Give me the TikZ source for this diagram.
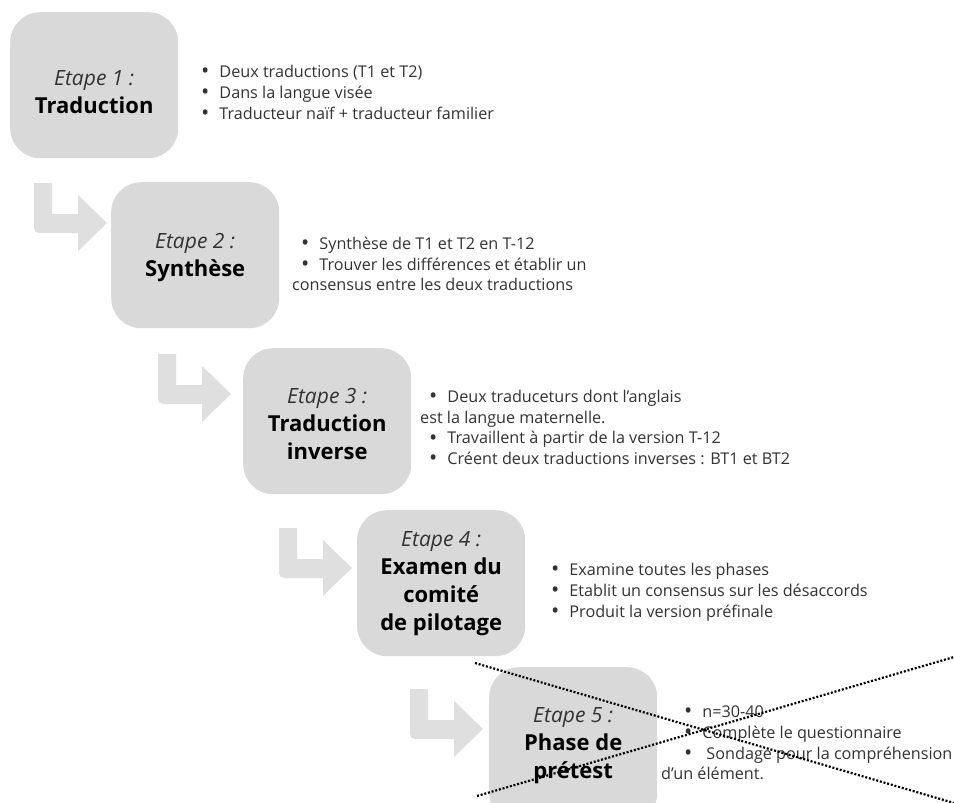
\documentclass[tikz,border=0pt]{standalone}
\usepackage{fontspec}
\setmainfont{Open Sans}
\definecolor{boxgray}{HTML}{D9D9D9}
\definecolor{arrowgray}{HTML}{DFDFDF}
\definecolor{txt}{HTML}{333333}
\newcommand{\bl}{\raisebox{-1.2pt}{\fontsize{22}{0}\selectfont\textbullet}\hspace{10pt}}
\newcommand{\et}[1]{{\fontsize{21}{28}\selectfont\mdseries\itshape\color{txt}#1}}
\begin{document}
\begin{tikzpicture}[x=1pt,y=-1pt,
  stepbox/.style={fill=boxgray, rounded corners=30pt, minimum width=168pt,
    minimum height=146pt, anchor=north west, inner sep=0pt, align=center,
    text=black, font=\fontsize{22}{28}\selectfont\bfseries},
  bullets/.style={anchor=west, align=left, inner sep=0pt, text=txt,
    font=\fontsize{16.2}{20.8}\selectfont},
  crossline/.style={line width=2.2pt, dash pattern=on 2pt off 1.8pt, black},
  pics/bendarrow/.style={code={
    \fill[arrowgray] (0,0) -- (18,0) -- (18,31) -- (44,31) -- (44,12) -- (73,40)
      -- (44,68) -- (44,50) -- (5,50) arc[start angle=90,end angle=180,radius=5] -- cycle;
  }}
]
\clip (0,0) rectangle (954,803);
\fill[white] (0,0) rectangle (954,803);

% arrows
\pic at (34,183) {bendarrow};
\pic at (158,354) {bendarrow};
\pic at (279,528) {bendarrow};
\pic at (410,689) {bendarrow};

% boxes
\node[stepbox] (b1) at (10,12) {\rule{0pt}{28pt}\et{Etape 1 :}\\Traduction};
\node[stepbox] (b2) at (111,182) {\rule{0pt}{20pt}\et{Etape 2 :}\\Synthèse};
\node[stepbox] (b3) at (243,348) {\rule{0pt}{20pt}\et{Etape 3 :}\\Traduction\\inverse};
\node[stepbox] (b4) at (357,510) {\et{Etape 4 :}\\Examen du\\comité\\de pilotage};
\node[stepbox, minimum height=156pt] (b5) at (489,667) {\et{Etape 5 :}\\Phase de\\prétest};

% texts
\node[bullets] (t1) at (201,93) {\bl Deux traductions (T1 et T2)\\
  \bl Dans la langue visée\\
  \bl Traducteur naïf + traducteur familier};
\node[bullets] (t2) at (292,264) {\hspace{9pt}\bl Synthèse de T1 et T2 en T-12\\
  \hspace{9pt}\bl Trouver les différences et établir un\\
  consensus entre les deux traductions};
\node[bullets] (t3) at (420,428) {\hspace{9pt}\bl Deux traduceturs dont l'anglais\\
  est la langue maternelle.\\
  \hspace{9pt}\bl Travaillent à partir de la version T-12\\
  \hspace{9pt}\bl Créent deux traductions inverses : BT1 et BT2};
\node[bullets] (t4) at (551,592) {\bl Examine toutes les phases\\
  \bl Etablit un consensus sur les désaccords\\
  \bl Produit la version préfinale};
\node[bullets] (t5) at (661,743) {\hspace{23pt}\bl n=30-40\\
  \hspace{23pt}\bl Complète le questionnaire\\
  \hspace{23pt}\bl\hspace{4pt}Sondage pour la compréhension\\
  d'un élément.};

% crossing dotted lines
\coordinate (xa1) at (475,663);
\coordinate (xa2) at (954,803);
\coordinate (xb1) at (477,796);
\coordinate (xb2) at (954,657);
\draw[crossline] (xa1) -- (xa2);
\draw[crossline] (xb1) -- (xb2);
\end{tikzpicture}
\end{document}
